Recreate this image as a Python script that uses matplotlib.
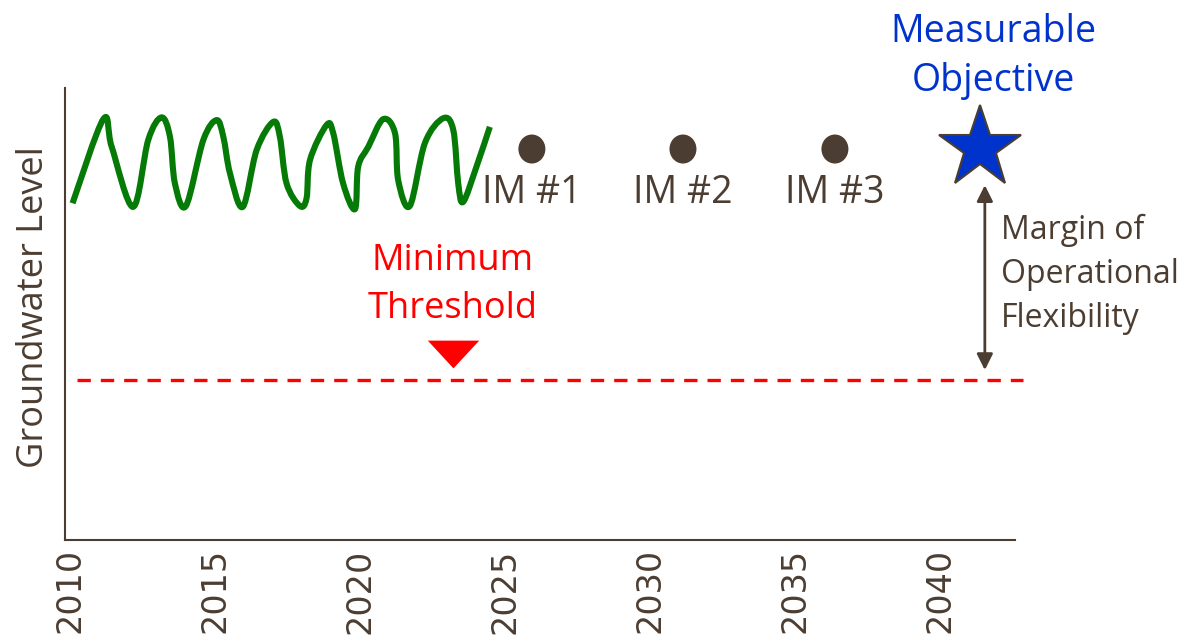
import matplotlib
matplotlib.use("Agg")
import matplotlib.pyplot as plt
from matplotlib.patches import Ellipse, PathPatch
from matplotlib.path import Path

# ---- data ----
wave_year = [2010.09, 2011.15, 2011.44, 2012.18, 2012.70, 2013.16, 2013.45, 2013.62, 2014.00,
             2014.60, 2015.06, 2015.29, 2015.52, 2015.96, 2016.44, 2017.01, 2017.24, 2017.47,
             2017.93, 2018.16, 2018.28, 2018.85, 2019.08, 2019.42, 2019.83, 2019.94, 2020.29,
             2020.80, 2021.21, 2021.32, 2021.72, 2022.24, 2022.87, 2023.22, 2023.39, 2023.56,
             2024.02, 2024.48]
wave_level = [7.45, 9.31, 8.70, 7.37, 8.85, 9.35, 8.92, 7.89, 7.39,
              8.85, 9.29, 8.92, 8.11, 7.37, 8.63, 9.25, 8.92, 7.89,
              7.39, 7.56, 8.41, 9.18, 9.00, 7.89, 7.32, 8.26, 8.70,
              9.31, 9.00, 7.96, 7.39, 8.78, 9.33, 9.07, 7.89, 7.48,
              8.26, 9.14]
im_years = [2025.93, 2031.14, 2036.38]
im_level = [8.65, 8.65, 8.65]
im_labels = ["IM #1", "IM #2", "IM #3"]
mo_year = 2041.38
mo_level = 8.67
mt_level = 3.53
mt_marker_year = 2023.2
xticks = [2010, 2015, 2020, 2025, 2030, 2035, 2040]

BROWN = "#4b3d31"
GREEN = "#067a06"
RED = "#ff0000"
BLUE = "#0033cc"
FONT = "Open Sans"

fig = plt.figure(figsize=(11.81, 6.41), dpi=100)
ax = fig.add_axes([65/1181, 1-540/641, 950/1181, 452/641])
ax.set_xlim(2009.83, 2042.59)
ax.set_ylim(0, 10)

for s in ["top", "right"]:
    ax.spines[s].set_visible(False)
for s in ["left", "bottom"]:
    ax.spines[s].set_color(BROWN)
    ax.spines[s].set_linewidth(1.5)

ax.set_xticks(xticks)
ax.set_xticklabels([str(t) for t in xticks], rotation=90, fontsize=24,
                   color=BROWN, family="DejaVu Sans", va="top")
ax.tick_params(axis="x", length=0, pad=6)
ax.set_yticks([])
ax.set_ylabel("Groundwater Level", fontsize=26, color=BROWN, family=FONT)
ax.yaxis.set_label_coords(-0.014, 0.515)

# hydrograph drawn as a smooth curve through the read points (Catmull-Rom -> Bezier)
pts = list(zip(wave_year, wave_level))
verts = [pts[0]]
codes = [Path.MOVETO]
n = len(pts)
for i in range(n - 1):
    p0 = pts[i - 1] if i > 0 else pts[i]
    p1 = pts[i]
    p2 = pts[i + 1]
    p3 = pts[i + 2] if i + 2 < n else pts[i + 1]
    c1 = (p1[0] + (p2[0] - p0[0]) / 6, p1[1] + (p2[1] - p0[1]) / 6)
    c2 = (p2[0] - (p3[0] - p1[0]) / 6, p2[1] - (p3[1] - p1[1]) / 6)
    verts += [c1, c2, p2]
    codes += [Path.CURVE4] * 3
ax.add_patch(PathPatch(Path(verts, codes), facecolor="none", edgecolor=GREEN, lw=4.4,
                       joinstyle="round", capstyle="butt", clip_on=False))

# minimum threshold
ax.plot([2010.25, 2042.85], [mt_level, mt_level], color=RED, lw=2.4,
        dashes=(4, 3), clip_on=False)
tri = [(-1, 0.54), (1, 0.54), (0, -0.54), (-1, 0.54)]
ax.plot([mt_marker_year], [4.12], marker=tri, color=RED, markersize=37,
        markeredgewidth=0, clip_on=False)
ax.text(mt_marker_year, 5.64, "Minimum\nThreshold", color=RED, fontsize=26,
        family=FONT, ha="center", va="center", linespacing=1.45)

# interim milestones
for x, y, lab in zip(im_years, im_level, im_labels):
    ax.add_patch(Ellipse((x, y), width=27/29, height=29/45.2, facecolor=BROWN,
                         edgecolor="none", clip_on=False))
    ax.text(x, 7.68, lab, color=BROWN, fontsize=27, family=FONT, ha="center",
            va="center")

# measurable objective
ax.plot([mo_year], [mo_level], marker="*", markersize=62, color=BLUE,
        markeredgecolor=BROWN, markeredgewidth=1.5, clip_on=False)
ax.text(2041.85, 10.70, "Measurable\nObjective", color=BLUE, fontsize=27, family=FONT,
        ha="center", va="center", linespacing=1.38, clip_on=False)

# margin arrow
ax.annotate("", xy=(2041.55, 3.76), xytext=(2041.55, 7.85),
            arrowprops=dict(arrowstyle="<|-|>", color=BROWN, lw=2,
                            mutation_scale=24, shrinkA=0, shrinkB=0),
            annotation_clip=False)
ax.text(2042.1, 5.88, "Margin of\nOperational\nFlexibility", color=BROWN, fontsize=23,
        family=FONT, ha="left", va="center", linespacing=1.45, clip_on=False)

fig.savefig("out.png", dpi=100)
